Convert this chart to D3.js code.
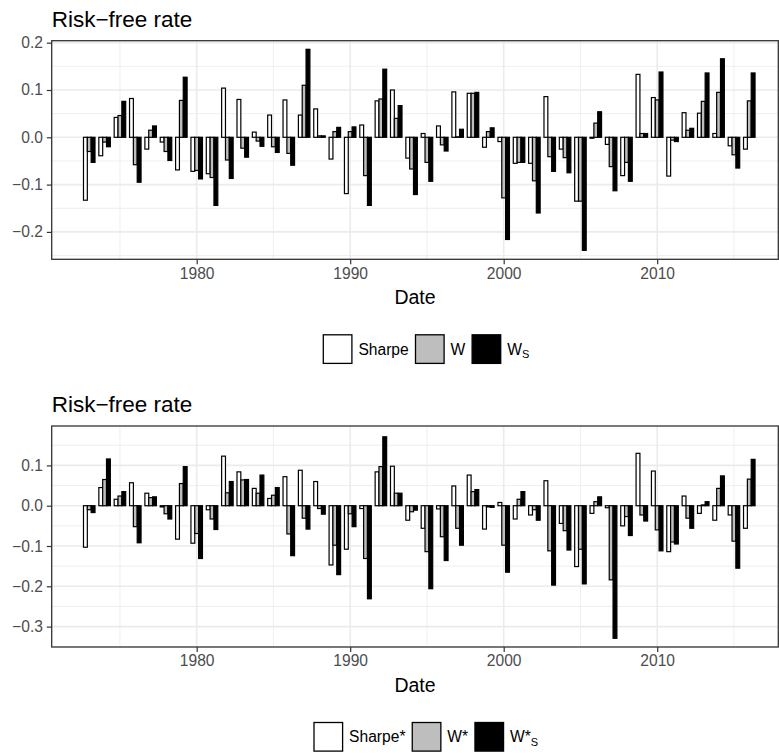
<!DOCTYPE html>
<html>
<head>
<meta charset="utf-8">
<script src="https://cdn.jsdelivr.net/npm/d3@7"></script>
<style>
  body { margin: 0; background: #fff; }
  svg text { font-family: "Liberation Sans", Arial, sans-serif; }
</style>
</head>
<body>
<svg id="chart" width="779" height="753"></svg>
<script>
// Annual observations, one group of three bars per year
const years = [1973, 1974, 1975, 1976, 1977, 1978, 1979, 1980, 1981, 1982, 1983, 1984, 1985, 1986, 1987,
  1988, 1989, 1990, 1991, 1992, 1993, 1994, 1995, 1996, 1997, 1998, 1999, 2000, 2001, 2002,
  2003, 2004, 2005, 2006, 2007, 2008, 2009, 2010, 2011, 2012, 2013, 2014, 2015, 2016];

// top panel
const sharpeTop = [-0.133, -0.039, 0.042, 0.082, -0.025, -0.010, -0.069, -0.072, -0.077, 0.104, 0.080, 0.011, 0.047, 0.079, 0.047,
  0.060, -0.046, -0.119, 0.026, 0.077, 0.100, -0.044, 0.008, 0.024, 0.096, 0.093, -0.021, -0.009, -0.055, -0.055,
  0.086, -0.025, -0.135, -0.002, -0.015, -0.081, 0.133, 0.084, -0.082, 0.052, 0.051, 0.008, -0.018, -0.025];
const wTop = [-0.030, -0.010, 0.046, -0.058, 0.015, -0.030, 0.078, -0.070, -0.085, -0.048, -0.023, -0.008, -0.020, -0.034, 0.110,
  0.003, 0.012, 0.012, -0.081, 0.081, 0.040, -0.067, -0.053, -0.016, 0.001, 0.093, 0.012, -0.128, -0.053, -0.092,
  -0.041, -0.043, -0.135, 0.030, -0.062, -0.053, 0.008, 0.079, -0.006, 0.015, 0.076, 0.095, -0.037, 0.077];
const wsTop = [-0.053, -0.020, 0.076, -0.095, 0.024, -0.049, 0.127, -0.088, -0.144, -0.087, -0.042, -0.019, -0.032, -0.059, 0.186,
  0.003, 0.021, 0.022, -0.144, 0.144, 0.067, -0.121, -0.093, -0.029, 0.017, 0.095, 0.020, -0.216, -0.053, -0.160,
  -0.072, -0.075, -0.239, 0.054, -0.113, -0.093, 0.008, 0.138, -0.009, 0.019, 0.136, 0.166, -0.065, 0.136];

// bottom panel (starred measures)
const sharpeBot = [-0.103, 0.045, 0.016, 0.057, 0.031, -0.003, -0.083, -0.093, -0.010, 0.123, 0.084, 0.043, 0.018, 0.072, 0.088,
  0.060, -0.147, -0.108, -0.007, 0.084, 0.098, -0.036, -0.056, -0.008, 0.049, 0.076, -0.058, 0.008, -0.033, -0.023,
  0.062, -0.044, -0.151, -0.019, -0.005, -0.050, 0.130, 0.086, -0.114, 0.024, -0.019, -0.036, -0.023, -0.056];
const wBot = [-0.010, 0.065, 0.024, -0.052, 0.020, -0.020, 0.055, -0.069, -0.033, 0.032, 0.064, 0.031, 0.026, -0.070, -0.031,
  -0.007, -0.098, -0.020, -0.131, 0.097, 0.031, -0.015, -0.114, -0.077, -0.056, 0.035, -0.003, -0.098, 0.016, -0.010,
  -0.112, -0.062, -0.108, 0.010, -0.184, -0.027, -0.023, -0.060, -0.090, -0.031, 0.002, 0.043, -0.088, 0.066];
const wsBot = [-0.017, 0.116, 0.035, -0.092, 0.022, -0.033, 0.097, -0.131, -0.059, 0.060, 0.065, 0.076, 0.045, -0.124, -0.058,
  -0.021, -0.171, -0.052, -0.231, 0.171, 0.031, -0.011, -0.206, -0.136, -0.098, 0.040, -0.004, -0.165, 0.035, -0.036,
  -0.197, -0.110, -0.194, 0.022, -0.329, -0.074, -0.038, -0.112, -0.095, -0.056, 0.010, 0.074, -0.155, 0.115];

const xTicks = [1980, 1990, 2000, 2010];
const xMinor = [1975, 1985, 1995, 2005, 2015];
const yTicksTop = [0.2, 0.1, 0.0, -0.1, -0.2];
const yMinorTop = [0.15, 0.05, -0.05, -0.15, -0.25];
const yTicksBot = [0.1, 0.0, -0.1, -0.2, -0.3];
const yMinorBot = [0.15, 0.05, -0.05, -0.15, -0.25, -0.35];

const series = ["a", "b", "c"];
const fills = { a: "#ffffff", b: "#bebebe", c: "#000000" };

const svg = d3.select("#chart");
svg.append("rect").attr("width", 779).attr("height", 753).attr("fill", "#fff");

const PL = 51.7, PR = 778.3;
const x = d3.scaleLinear().domain([1970.554, 2017.89]).range([PL, PR]);
const groupW = x(1980.75) - x(1980);
const x1 = d3.scaleBand().domain(series).range([-groupW / 2, groupW / 2]);
const fmt = d3.format(".1f");

function panel(o) {
  const g = svg.append("g");
  const y = d3.scaleLinear().domain(o.yDomain).range([o.bottom, o.top]);

  // title
  g.append("text").attr("x", PL).attr("y", o.top - 14).attr("font-size", 22.5).attr("fill", "#000").text("Risk\u2212free rate");

  // grid
  const grid = g.append("g");
  grid.selectAll("line.ymin").data(o.yMinor.filter(v => y(v) > o.top && y(v) < o.bottom)).join("line")
    .attr("x1", PL).attr("x2", PR).attr("y1", d => y(d)).attr("y2", d => y(d))
    .attr("stroke", "#ebebeb").attr("stroke-width", 0.8);
  grid.selectAll("line.xmin").data(xMinor).join("line")
    .attr("x1", d => x(d)).attr("x2", d => x(d)).attr("y1", o.top).attr("y2", o.bottom)
    .attr("stroke", "#ebebeb").attr("stroke-width", 0.8);
  grid.selectAll("line.ymaj").data(o.yTicks).join("line")
    .attr("x1", PL).attr("x2", PR).attr("y1", d => y(d)).attr("y2", d => y(d))
    .attr("stroke", "#ebebeb").attr("stroke-width", 1.6);
  grid.selectAll("line.xmaj").data(xTicks).join("line")
    .attr("x1", d => x(d)).attr("x2", d => x(d)).attr("y1", o.top).attr("y2", o.bottom)
    .attr("stroke", "#ebebeb").attr("stroke-width", 1.6);

  // bars
  const rows = years.map((yr, i) => series.map((s, j) => ({ yr, s, v: o.vals[j][i] })));
  const bars = g.append("g");
  bars.selectAll("g").data(rows).join("g")
    .attr("transform", d => `translate(${x(d[0].yr)},0)`)
    .selectAll("rect").data(d => d).join("rect")
    .attr("x", d => x1(d.s)).attr("width", x1.bandwidth())
    .attr("y", d => y(Math.max(0, d.v))).attr("height", d => Math.abs(y(d.v) - y(0)))
    .attr("fill", d => fills[d.s]).attr("stroke", "#000").attr("stroke-width", 1.2);

  // border
  g.append("rect").attr("x", PL).attr("y", o.top).attr("width", PR - PL).attr("height", o.bottom - o.top)
    .attr("fill", "none").attr("stroke", "#333").attr("stroke-width", 1.3);

  // axes
  const ya = g.append("g").attr("transform", `translate(${PL},0)`)
    .call(d3.axisLeft(y).tickValues(o.yTicks).tickFormat(fmt).tickSize(4.9).tickPadding(3.9));
  const xa = g.append("g").attr("transform", `translate(0,${o.bottom})`)
    .call(d3.axisBottom(x).tickValues(xTicks).tickFormat(d3.format("d")).tickSize(4.9).tickPadding(3.5));
  [ya, xa].forEach(a => {
    a.select(".domain").remove();
    a.selectAll(".tick line").attr("stroke", "#333").attr("stroke-width", 1.2);
    a.selectAll(".tick text").attr("fill", "#4d4d4d").attr("font-size", 15.6)
      .attr("font-family", "Liberation Sans, Arial, sans-serif");
  });

  g.append("text").attr("x", (PL + PR) / 2).attr("y", o.bottom + 45).attr("text-anchor", "middle")
    .attr("font-size", 19.5).attr("fill", "#000").text("Date");

  // legend
  const lg = g.append("g");
  const kw = 28.6, ky = o.bottom + 75.5;
  let lx = o.legendX;
  o.labels.forEach((lab, j) => {
    lg.append("rect").attr("x", lx).attr("y", ky).attr("width", kw).attr("height", kw)
      .attr("fill", fills[series[j]]).attr("stroke", "#000").attr("stroke-width", 1.3);
    const t = lg.append("text").attr("x", lx + kw + 6.5).attr("y", ky + kw / 2 + 5.6)
      .attr("font-size", 15.6).attr("fill", "#000");
    t.append("tspan").text(lab[0]);
    if (lab[1]) t.append("tspan").attr("font-size", 11).attr("dy", 3.5).text(lab[1]);
    lx += kw + 6.5 + t.node().getComputedTextLength() + 6.8;
  });
}

panel({
  top: 40.7, bottom: 259.3, yDomain: [-0.2579, 0.2042],
  yTicks: yTicksTop, yMinor: yMinorTop,
  vals: [sharpeTop, wTop, wsTop],
  labels: [["Sharpe"], ["W"], ["W", "S"]], legendX: 323.3
});
panel({
  top: 426, bottom: 647, yDomain: [-0.3506, 0.1978],
  yTicks: yTicksBot, yMinor: yMinorBot,
  vals: [sharpeBot, wBot, wsBot],
  labels: [["Sharpe*"], ["W*"], ["W*", "S"]], legendX: 314
});
</script>
</body>
</html>
